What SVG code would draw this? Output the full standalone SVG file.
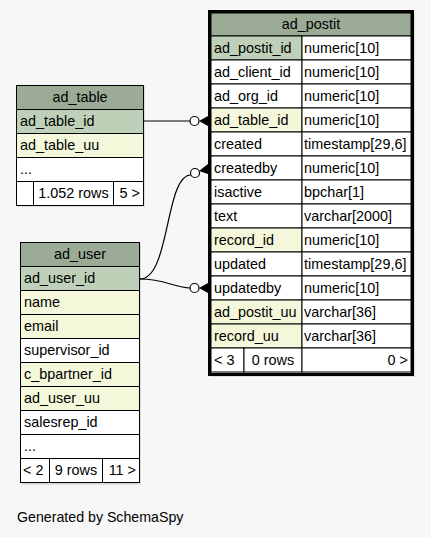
<svg xmlns="http://www.w3.org/2000/svg" width="431" height="537" viewBox="0 0 431 537">
<style>
text{font-family:"Liberation Sans",Arial,sans-serif;font-size:14.4px;fill:#000}
.hd{fill:#9bab96}
.pk{fill:#bed1b8}
.ix{fill:#f4f7da}
.pl{fill:#ffffff}
.c{stroke:#000;stroke-width:1}
.mid{text-anchor:middle}
.end{text-anchor:end}
.edge{fill:none;stroke:#000;stroke-width:1.2}
.sh{fill:#dedede}
</style>
<rect x="0" y="0" width="431" height="537" fill="#f7f7f7"/>

<g id="ad_postit">
<rect class="sh" x="210" y="13" width="205" height="364"/>
<rect x="209.5" y="11.5" width="203" height="363" fill="none" stroke="#000" stroke-width="3"/>
<rect class="hd c" x="211" y="13" width="200" height="23"/>
<text class="mid" x="311" y="29">ad_postit</text>
<g class="c">
<rect class="pk" x="211" y="36" width="91" height="24"/><rect class="pl" x="302" y="36" width="109" height="24"/>
<rect class="pl" x="211" y="60" width="91" height="24"/><rect class="pl" x="302" y="60" width="109" height="24"/>
<rect class="pl" x="211" y="84" width="91" height="24"/><rect class="pl" x="302" y="84" width="109" height="24"/>
<rect class="ix" x="211" y="108" width="91" height="24"/><rect class="pl" x="302" y="108" width="109" height="24"/>
<rect class="pl" x="211" y="132" width="91" height="24"/><rect class="pl" x="302" y="132" width="109" height="24"/>
<rect class="pl" x="211" y="156" width="91" height="24"/><rect class="pl" x="302" y="156" width="109" height="24"/>
<rect class="pl" x="211" y="180" width="91" height="24"/><rect class="pl" x="302" y="180" width="109" height="24"/>
<rect class="pl" x="211" y="204" width="91" height="24"/><rect class="pl" x="302" y="204" width="109" height="24"/>
<rect class="ix" x="211" y="228" width="91" height="24"/><rect class="pl" x="302" y="228" width="109" height="24"/>
<rect class="pl" x="211" y="252" width="91" height="24"/><rect class="pl" x="302" y="252" width="109" height="24"/>
<rect class="pl" x="211" y="276" width="91" height="24"/><rect class="pl" x="302" y="276" width="109" height="24"/>
<rect class="ix" x="211" y="300" width="91" height="24"/><rect class="pl" x="302" y="300" width="109" height="24"/>
<rect class="ix" x="211" y="324" width="91" height="24"/><rect class="pl" x="302" y="324" width="109" height="24"/>
<rect class="pl" x="211" y="348" width="33" height="24"/><rect class="pl" x="244" y="348" width="58" height="24"/><rect class="pl" x="302" y="348" width="109" height="24"/>
</g>
<text x="214" y="53">ad_postit_id</text><text x="304" y="53">numeric[10]</text>
<text x="214" y="77">ad_client_id</text><text x="304" y="77">numeric[10]</text>
<text x="214" y="101">ad_org_id</text><text x="304" y="101">numeric[10]</text>
<text x="214" y="125">ad_table_id</text><text x="304" y="125">numeric[10]</text>
<text x="214" y="149">created</text><text x="304" y="149">timestamp[29,6]</text>
<text x="214" y="173">createdby</text><text x="304" y="173">numeric[10]</text>
<text x="214" y="197">isactive</text><text x="304" y="197">bpchar[1]</text>
<text x="214" y="221">text</text><text x="304" y="221">varchar[2000]</text>
<text x="214" y="245">record_id</text><text x="304" y="245">numeric[10]</text>
<text x="214" y="269">updated</text><text x="304" y="269">timestamp[29,6]</text>
<text x="214" y="293">updatedby</text><text x="304" y="293">numeric[10]</text>
<text x="214" y="317">ad_postit_uu</text><text x="304" y="317">varchar[36]</text>
<text x="214" y="341">record_uu</text><text x="304" y="341">varchar[36]</text>
<text x="214" y="365">&lt; 3</text><text class="mid" x="273" y="365">0 rows</text><text class="end" x="408" y="365">0 &gt;</text>
</g>

<g id="ad_table">
<rect class="sh" x="17" y="86" width="128" height="121"/>
<g class="c">
<rect class="hd" x="16.5" y="85.5" width="127" height="24"/>
<rect class="pk" x="16.5" y="109.5" width="127" height="24"/>
<rect class="ix" x="16.5" y="133.5" width="127" height="24"/>
<rect class="pl" x="16.5" y="157.5" width="127" height="24"/>
<rect class="pl" x="16.5" y="181.5" width="17" height="24"/>
<rect class="pl" x="33.5" y="181.5" width="80" height="24"/>
<rect class="pl" x="113.5" y="181.5" width="30" height="24"/>
</g>
<text class="mid" x="80" y="102">ad_table</text>
<text x="20" y="126">ad_table_id</text>
<text x="20" y="150">ad_table_uu</text>
<text x="20" y="174">...</text>
<text class="mid" x="73.5" y="198">1.052 rows</text>
<text class="end" x="140" y="198">5 &gt;</text>
</g>

<g id="ad_user">
<rect class="sh" x="21" y="243" width="120" height="242"/>
<g class="c">
<rect class="hd" x="20.5" y="242.5" width="119" height="24"/>
<rect class="pk" x="20.5" y="266.5" width="119" height="24"/>
<rect class="ix" x="20.5" y="290.5" width="119" height="24"/>
<rect class="ix" x="20.5" y="314.5" width="119" height="24"/>
<rect class="pl" x="20.5" y="338.5" width="119" height="24"/>
<rect class="ix" x="20.5" y="362.5" width="119" height="24"/>
<rect class="ix" x="20.5" y="386.5" width="119" height="24"/>
<rect class="pl" x="20.5" y="410.5" width="119" height="24"/>
<rect class="pl" x="20.5" y="434.5" width="119" height="24"/>
<rect class="pl" x="20.5" y="458.5" width="29" height="24"/>
<rect class="pl" x="49.5" y="458.5" width="53" height="24"/>
<rect class="pl" x="102.5" y="458.5" width="37" height="24"/>
</g>
<text class="mid" x="80" y="259">ad_user</text>
<text x="24" y="283">ad_user_id</text>
<text x="24" y="307">name</text>
<text x="24" y="331">email</text>
<text x="24" y="355">supervisor_id</text>
<text x="24" y="379">c_bpartner_id</text>
<text x="24" y="403">ad_user_uu</text>
<text x="24" y="427">salesrep_id</text>
<text x="24" y="451">...</text>
<text x="23" y="475">&lt; 2</text>
<text class="mid" x="76" y="475">9 rows</text>
<text class="end" x="136" y="475">11 &gt;</text>
</g>

<g id="connectors">
<path class="edge" d="M144,121 L190,121"/>
<circle cx="194.5" cy="121" r="4.5" fill="#fff" stroke="#000" stroke-width="1.2"/>
<polygon points="199,121 208,116 208,126" fill="#000"/>

<path class="edge" d="M140,279 C170,279 165,176 190.5,175"/>
<circle cx="195" cy="173" r="4.5" fill="#fff" stroke="#000" stroke-width="1.2"/>
<polygon points="199,171 208,164 208,174" fill="#000"/>

<path class="edge" d="M140,279 C165,279 172,287 190,288"/>
<circle cx="194.5" cy="288" r="4.5" fill="#fff" stroke="#000" stroke-width="1.2"/>
<polygon points="199,288 208,283 208,293" fill="#000"/>
</g>

<text x="17" y="522" style="font-size:14.2px">Generated by SchemaSpy</text>
</svg>
